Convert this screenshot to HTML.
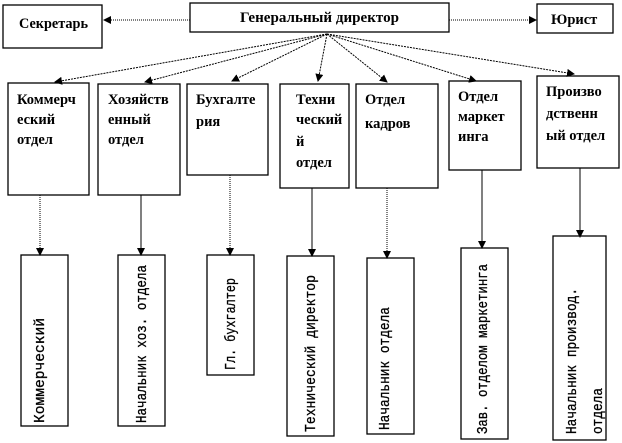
<!DOCTYPE html>
<html><head><meta charset="utf-8"><style>
body{margin:0;background:#fff}
svg{display:block}
.t{font-family:"Liberation Serif",serif;font-weight:bold;font-size:14.5px;fill:#000}
.m{font-family:"Liberation Mono","DejaVu Sans Mono",monospace;font-size:15px;fill:#000;stroke:#000;stroke-width:0.3}
</style></head><body>
<svg width="622" height="443" viewBox="0 0 622 443" xmlns="http://www.w3.org/2000/svg">
<defs>
<marker id="a" markerWidth="8" markerHeight="8" refX="7" refY="4" orient="auto" markerUnits="userSpaceOnUse"><path d="M0,0 L8,4 L0,8 z" fill="#000"/></marker>
<clipPath id="c7"><rect x="553" y="236" width="53" height="204"/></clipPath>
</defs>
<g fill="#fff" stroke="#000" stroke-width="1.3">
<rect x="3" y="5" width="99" height="43"/>
<rect x="190" y="3" width="259" height="29"/>
<rect x="537" y="4" width="76" height="29"/>
<rect x="8" y="83" width="81" height="112"/>
<rect x="98" y="84" width="82" height="111"/>
<rect x="187" y="84" width="81" height="91"/>
<rect x="280" y="84" width="69" height="104"/>
<rect x="356" y="84" width="82" height="104"/>
<rect x="449" y="81" width="72" height="89"/>
<rect x="537" y="76" width="82" height="92"/>
<rect x="21" y="255" width="47" height="171"/>
<rect x="118" y="255" width="47" height="171"/>
<rect x="207" y="255" width="47" height="120"/>
<rect x="287" y="256" width="47" height="180"/>
<rect x="367" y="258" width="47" height="176"/>
<rect x="461" y="248" width="47" height="191"/>
<rect x="553" y="236" width="53" height="204"/>
</g>
<g stroke="#000" stroke-width="1" fill="none" marker-end="url(#a)">
<line x1="190" y1="20" x2="104" y2="20" stroke-dasharray="1,1"/>
<line x1="449" y1="20" x2="536" y2="20" stroke-dasharray="1,1"/>
<line x1="327" y1="34" x2="55" y2="82" stroke-dasharray="2,1"/>
<line x1="327" y1="34" x2="145" y2="82" stroke-dasharray="2,1"/>
<line x1="327" y1="34" x2="232" y2="81" stroke-dasharray="2,1"/>
<line x1="327" y1="34" x2="318" y2="81" stroke-dasharray="2,1"/>
<line x1="327" y1="34" x2="387" y2="82" stroke-dasharray="2,1"/>
<line x1="327" y1="34" x2="476" y2="81" stroke-dasharray="2,1"/>
<line x1="327" y1="34" x2="574" y2="74" stroke-dasharray="2,1"/>
<line x1="40" y1="195" x2="40" y2="255" stroke-dasharray="1,1"/>
<line x1="141" y1="195" x2="141" y2="255"/>
<line x1="230" y1="175" x2="230" y2="255" stroke-dasharray="1,1"/>
<line x1="312" y1="188" x2="312" y2="256"/>
<line x1="387" y1="188" x2="387" y2="258" stroke-dasharray="1,1"/>
<line x1="482" y1="170" x2="482" y2="248"/>
<line x1="580" y1="168" x2="580" y2="237"/>
</g>
<text class="t" x="19" y="28" textLength="69" lengthAdjust="spacingAndGlyphs">Секретарь</text>
<text class="t" x="240" y="22" textLength="159" lengthAdjust="spacingAndGlyphs">Генеральный директор</text>
<text class="t" x="551" y="24">Юрист</text>
<g class="t">
<text x="17" y="104">Коммерч</text><text x="17" y="124">еский</text><text x="17" y="144">отдел</text>
<text x="108" y="104">Хозяйств</text><text x="108" y="124">енный</text><text x="108" y="144">отдел</text>
<text x="196" y="104">Бухгалте</text><text x="196" y="126">рия</text>
<text x="296" y="104">Техни</text><text x="296" y="124">ческий</text><text x="296" y="146">й</text><text x="296" y="167">отдел</text>
<text x="365" y="104">Отдел</text><text x="365" y="128">кадров</text>
<text x="458" y="101">Отдел</text><text x="458" y="121">маркет</text><text x="458" y="141">инга</text>
<text x="546" y="96">Произво</text><text x="546" y="118">дственн</text><text x="546" y="140">ый отдел</text>
</g>
<g class="m">
<text transform="translate(44,423) rotate(-90)" textLength="105" lengthAdjust="spacingAndGlyphs">Коммерческий</text>
<text transform="translate(146,423) rotate(-90)" textLength="158" lengthAdjust="spacingAndGlyphs">Начальник хоз. отдела</text>
<text transform="translate(235,370) rotate(-90)" textLength="92" lengthAdjust="spacingAndGlyphs">Гл. бухгалтер</text>
<text transform="translate(315,432) rotate(-90)" textLength="157" lengthAdjust="spacingAndGlyphs">Технический директор</text>
<text transform="translate(389,430) rotate(-90)" textLength="123" lengthAdjust="spacingAndGlyphs">Начальник отдела</text>
<text transform="translate(487,434) rotate(-90)" textLength="170" lengthAdjust="spacingAndGlyphs">Зав. отделом маркетинга</text>
<g clip-path="url(#c7)">
<text transform="translate(576,434) rotate(-90)" textLength="146" lengthAdjust="spacingAndGlyphs">Начальник производ.</text>
<text transform="translate(602,434) rotate(-90)" textLength="46" lengthAdjust="spacingAndGlyphs">отдела</text>
</g>
</g>
</svg>
</body></html>
